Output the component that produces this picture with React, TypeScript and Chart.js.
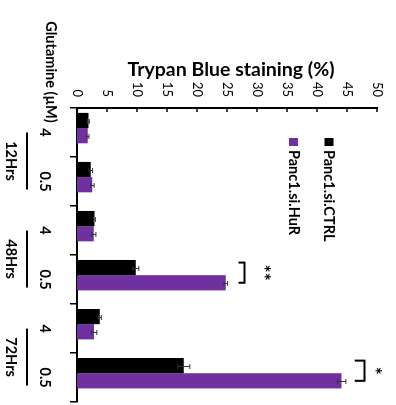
import React, { useEffect, useRef } from "react";
import { Chart, registerables } from "chart.js";
Chart.register(...registerables);

const FONT = "Lato, 'Liberation Sans', sans-serif";

const categories = ["4", "0.5", "4", "0.5", "4", "0.5"];
const groups = ["12Hrs", "48Hrs", "72Hrs"];
const seriesNames = ["Panc1.si.CTRL", "Panc1.si.HuR"];
const ctrlValues = [1.9, 2.3, 2.9, 9.8, 3.8, 17.8];
const ctrlErrors = [0.15, 0.3, 0.15, 0.5, 0.25, 1.0];
const hurValues = [1.8, 2.55, 2.8, 24.8, 2.85, 44.1];
const hurErrors = [0.2, 0.3, 0.35, 0.3, 0.45, 0.7];
const yMin = 0;
const yMax = 50;
const yStep = 5;
const sigIndex = [3, 5];
const sigLabels = ["**", "*"];
const sigBracketAt = [27.9, 47.9];
const sigBracketEnd = [26.9, 46.3];
const sigLabelAt = [31.7, 50.2];

const axisTitle = "Trypan Blue staining (%)";
const catTitle = "Glutamine (\u00b5M)";

const COLORS = ["#000000", "#7030A0"];

export default function App() {
  const ref = useRef<HTMLCanvasElement>(null);
  useEffect(() => {
    const canvas = ref.current!;
    const overlay = {
      id: "overlay",
      afterDraw(chart: any) {
        const { ctx, chartArea } = chart;
        const ys = chart.scales.y;
        const xs = chart.scales.x;
        const metaC = chart.getDatasetMeta(0);
        const metaH = chart.getDatasetMeta(1);
        ctx.save();
        // error bars
        const sets: any[] = [
          [metaC, ctrlValues, ctrlErrors],
          [metaH, hurValues, hurErrors],
        ];
        ctx.strokeStyle = "#333";
        ctx.lineWidth = 1;
        sets.forEach(([meta, vals, errs]) => {
          meta.data.forEach((bar: any, i: number) => {
            const x = Math.round(bar.x) + 0.5;
            const y1 = ys.getPixelForValue(vals[i] - errs[i]);
            const y2 = ys.getPixelForValue(vals[i] + errs[i]);
            ctx.beginPath();
            ctx.moveTo(x, y1);
            ctx.lineTo(x, y2);
            ctx.moveTo(x - 2.5, y1);
            ctx.lineTo(x + 2.5, y1);
            ctx.moveTo(x - 2.5, y2);
            ctx.lineTo(x + 2.5, y2);
            ctx.stroke();
          });
        });
        // inward ticks on value axis
        ctx.strokeStyle = "#000";
        ctx.lineWidth = 1.5;
        for (let v = yMin; v <= yMax; v += yStep) {
          const py = ys.getPixelForValue(v);
          ctx.beginPath();
          ctx.moveTo(chartArea.left, py);
          ctx.lineTo(chartArea.left + 4, py);
          ctx.stroke();
        }
        ctx.fillStyle = "#000";
        // value axis title (rotated)
        ctx.save();
        ctx.translate(69.5, 165);
        ctx.rotate(-Math.PI / 2);
        ctx.font = `bold 19.5px ${FONT}`;
        ctx.textAlign = "center";
        ctx.textBaseline = "middle";
        ctx.fillText(axisTitle, 0, 0);
        ctx.restore();
        // legend
        const legendY = [67, 102.5];
        seriesNames.forEach((name, i) => {
          ctx.fillStyle = COLORS[i];
          ctx.fillRect(138, legendY[i] - 4.5, 8, 9);
          ctx.fillStyle = "#000";
          ctx.font = `bold 14.5px ${FONT}`;
          ctx.textAlign = "left";
          ctx.textBaseline = "middle";
          ctx.fillText(name, 150, legendY[i]);
        });
        // category title
        ctx.font = `bold 14.5px ${FONT}`;
        ctx.textAlign = "center";
        ctx.textBaseline = "middle";
        ctx.fillText(catTitle, 72, 345);
        // group lines and labels
        groups.forEach((g, k) => {
          const a = xs.getPixelForValue(k * 2);
          const b = xs.getPixelForValue(k * 2 + 1);
          const c = (a + b) / 2 + 4;
          ctx.strokeStyle = "#000";
          ctx.lineWidth = 2;
          ctx.beginPath();
          ctx.moveTo(c - 28.5, 369);
          ctx.lineTo(c + 28.5, 369);
          ctx.stroke();
          ctx.font = `bold 14.5px ${FONT}`;
          ctx.textAlign = "center";
          ctx.textBaseline = "middle";
          ctx.fillText(g, c, 385);
        });
        // significance brackets
        sigIndex.forEach((idx, k) => {
          const bx0 = metaC.data[idx].x - 5;
          const bx1 = metaH.data[idx].x;
          const yb = ys.getPixelForValue(sigBracketAt[k]);
          const ye = ys.getPixelForValue(sigBracketEnd[k]);
          ctx.strokeStyle = "#000";
          ctx.lineWidth = 2;
          ctx.beginPath();
          ctx.moveTo(bx0, ye);
          ctx.lineTo(bx0, yb);
          ctx.lineTo(bx1, yb);
          ctx.lineTo(bx1, ye);
          ctx.stroke();
          ctx.font = `bold 19px ${FONT}`;
          ctx.textAlign = "center";
          ctx.textBaseline = "alphabetic";
          const m = ctx.measureText(sigLabels[k]);
          const ly = ys.getPixelForValue(sigLabelAt[k]);
          const off = (m.actualBoundingBoxAscent - m.actualBoundingBoxDescent) / 2;
          ctx.fillText(sigLabels[k], (bx0 + bx1) / 2, ly + off);
        });
        ctx.restore();
      },
    };

    const chart = new Chart(canvas, {
      type: "bar",
      data: {
        labels: categories,
        datasets: [
          {
            label: seriesNames[0],
            data: ctrlValues.map((v, i) => ({ x: i, y: v })),
            backgroundColor: COLORS[0],
            xAxisID: "xb",
            yAxisID: "y",
            barPercentage: 1,
            categoryPercentage: 0.62,
          },
          {
            label: seriesNames[1],
            data: hurValues.map((v, i) => ({ x: i, y: v })),
            backgroundColor: COLORS[1],
            xAxisID: "xb",
            yAxisID: "y",
            barPercentage: 1,
            categoryPercentage: 0.62,
          },
        ] as any,
      },
      options: {
        animation: false,
        responsive: false,
        maintainAspectRatio: false,
        devicePixelRatio: 1,
        layout: { padding: { left: 0, right: 1, top: 19, bottom: 0 } },
        plugins: { legend: { display: false }, tooltip: { enabled: false }, title: { display: false } },
        scales: {
          xb: {
            type: "linear",
            display: false,
            min: -0.41,
            max: 5.59,
            offset: false,
          },
          x: {
            type: "category",
            position: "bottom",
            offset: true,
            grid: {
              display: true,
              offset: true,
              drawOnChartArea: false,
              drawTicks: true,
              tickLength: 7,
              color: "#000",
              lineWidth: 1.5,
            },
            border: { display: true, color: "#000", width: 2 },
            ticks: {
              color: "#000",
              font: { family: FONT, size: 14.5, weight: "bold" },
              padding: 17,
              maxRotation: 0,
              minRotation: 0,
            },
            afterFit: (s: any) => {
              s.height = 77;
            },
          },
          y: {
            type: "linear",
            position: "left",
            min: yMin,
            max: yMax,
            grid: { display: false, drawTicks: false },
            border: { display: true, color: "#000", width: 2 },
            ticks: {
              stepSize: yStep,
              color: "#000",
              font: { family: FONT, size: 13 },
              padding: 11,
            },
            afterFit: (s: any) => {
              s.width = 108;
            },
          },
        },
      } as any,
      plugins: [overlay],
    });
    return () => chart.destroy();
  }, []);
  return (
    <div
      style={{
        position: "fixed",
        left: 0,
        top: 0,
        width: 405,
        height: 396,
        transformOrigin: "0 0",
        transform: "translateX(396px) rotate(90deg)",
        background: "#fff",
      }}
    >
      <canvas ref={ref} width={405} height={396} style={{ display: "block", width: 405, height: 396 }} />
    </div>
  );
}
